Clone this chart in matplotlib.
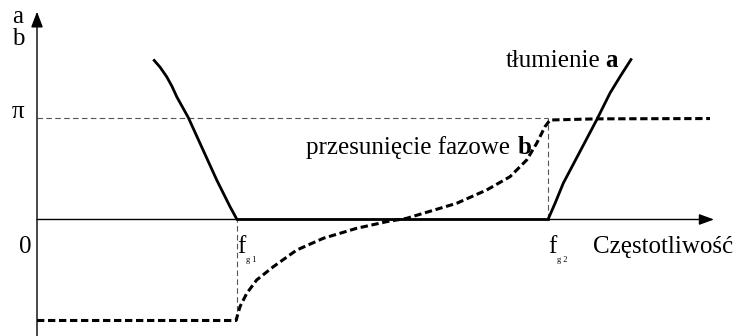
import numpy as np
import matplotlib.pyplot as plt

plt.rcParams['font.family'] = ['Liberation Serif', 'DejaVu Serif']

# cut-off frequencies (arbitrary units)
fg1 = 2.0
fg2 = 5.11

# attenuation a: falling slope below fg1, zero in the pass band, rising slope above fg2
att_low_f = [1.163, 1.23, 1.297, 1.35, 1.397, 1.513, 1.797, 1.93, fg1]
att_low_a = [4.98, 4.74, 4.44, 4.14, 3.82, 3.17, 1.23, 0.40, 0.0]
att_band_f = [fg1, fg2]
att_band_a = [0.0, 0.0]
att_high_f = [fg2, 5.18, 5.263, 5.597, 5.73, 5.83, 5.947]
att_high_a = [0.0, 0.50, 1.13, 3.10, 3.93, 4.44, 5.01]

# phase shift b: -pi below fg1, rising through the pass band, +pi above fg2
ph_f = [0.0, 1.99, 2.03, 2.097, 2.197, 2.363, 2.597, 2.863, 3.197, 3.497, 3.697,
        3.863, 4.197, 4.497, 4.73, 4.897, 4.997, 5.08, 5.13, 5.6, 6.73]
ph_b = [-np.pi, -np.pi, -2.71, -2.30, -1.88, -1.47, -0.95, -0.585, -0.274, -0.068, 0.037,
        0.193, 0.504, 0.918, 1.331, 1.851, 2.37, 2.887, 3.095, 3.13, 3.14]

fig = plt.figure(figsize=(7.41, 3.36), dpi=100)
ax = fig.add_axes([0, 0, 1, 1])
ax.set_xlim(-0.37, 7.04)
ax.set_ylim(-3.624, 6.827)
ax.axis('off')

# frequency axis and a/b axis with arrow heads
ax.annotate('', xy=(6.77, 0), xytext=(0, 0),
            arrowprops=dict(arrowstyle='-|>,head_length=0.9,head_width=0.33',
                            color='black', lw=1.0, shrinkA=0, shrinkB=0))
ax.annotate('', xy=(0, 6.464), xytext=(0, -3.624),
            arrowprops=dict(arrowstyle='-|>,head_length=0.95,head_width=0.36',
                            color='black', lw=1.0, shrinkA=0, shrinkB=0))

# helper lines
guide = dict(color='#555555', lw=0.8, ls=(0, (5, 3)))
ax.plot([0, fg2], [np.pi, np.pi], **guide)
ax.plot([fg2, fg2], [0, np.pi], **guide)
ax.plot([fg1, fg1], [-np.pi, 0], **guide)

# curves
ax.plot(att_low_f, att_low_a, color='black', lw=2.0, solid_capstyle='butt')
ax.plot(att_band_f, att_band_a, color='black', lw=2.0)
ax.plot(att_high_f, att_high_a, color='black', lw=2.0, solid_capstyle='butt')
ax.plot(ph_f, ph_b, color='black', lw=2.2, ls=(0, (2.4, 1.2)))

fs = 18
ax.text(-0.19, 6.11, 'a', fontsize=fs, ha='center', va='baseline')
ax.text(-0.19, 5.43, 'b', fontsize=fs, ha='center', va='baseline')
ax.text(-0.19, np.pi, 'π', fontsize=fs, ha='center', va='baseline')
ax.text(-0.12, -1.04, '0', fontsize=fs, ha='center', va='baseline')

for f, sub in [(fg1, 'g 1'), (fg2, 'g 2')]:
    ax.text(f + 0.0, -1.04, 'f', fontsize=fs, ha='left', va='baseline')
    ax.text(f + 0.09, -1.32, sub, fontsize=6, ha='left', va='baseline')

ax.text(5.56, -1.04, 'Częstotliwość', fontsize=fs, ha='left', va='baseline')
ax.text(5.63, 4.74, 'tłumienie', fontsize=fs, ha='right', va='baseline')
ax.text(5.68, 4.74, 'a', fontsize=fs, ha='left', va='baseline', fontweight='bold')
ax.text(4.73, 2.05, 'przesunięcie fazowe', fontsize=fs, ha='right', va='baseline')
ax.text(4.81, 2.05, 'b', fontsize=fs, ha='left', va='baseline', fontweight='bold')

fig.savefig('out.png', dpi=100)
